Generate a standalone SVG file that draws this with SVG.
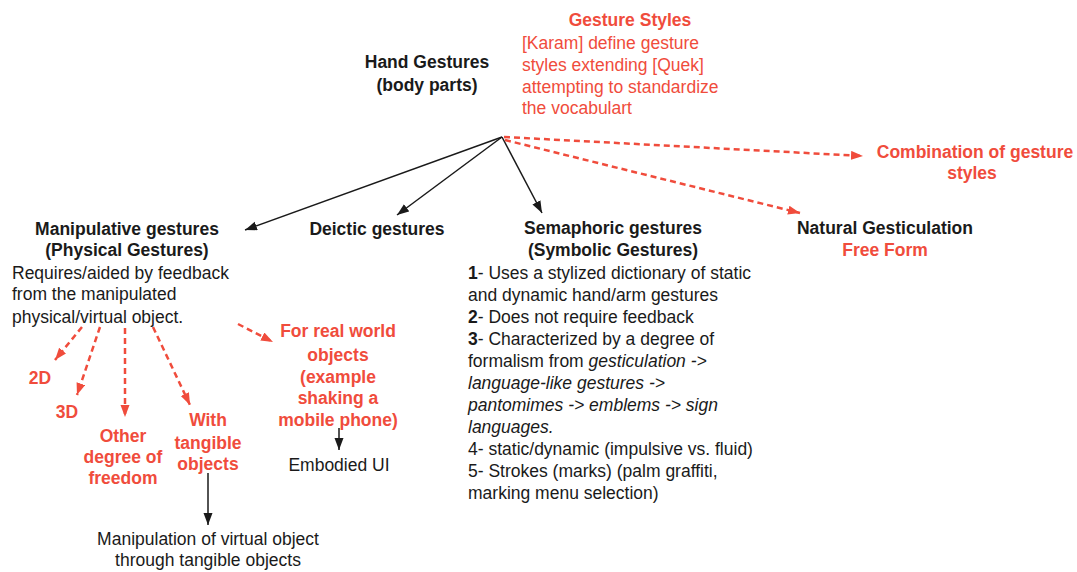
<svg xmlns="http://www.w3.org/2000/svg" width="1077" height="572" viewBox="0 0 1077 572">
<defs>
<style>
text{font-family:"Liberation Sans",Arial,Helvetica,sans-serif;font-size:17.5px;fill:#1a1a1a}
.b{font-weight:bold}
.r{fill:#f04c3c}
.m{text-anchor:middle}
.i{font-style:italic}
.blk{stroke:#1a1a1a;stroke-width:1.5;fill:none}
.red{stroke:#f04c3c;stroke-width:2.5;fill:none;stroke-dasharray:6 4}
</style>
<marker id="ab" markerUnits="userSpaceOnUse" markerWidth="13" markerHeight="10" refX="12" refY="4.5" orient="auto"><path d="M0,0 L12,4.5 L0,9 z" fill="#1a1a1a"/></marker>
<marker id="ar" markerUnits="userSpaceOnUse" markerWidth="13" markerHeight="10" refX="12" refY="4.5" orient="auto"><path d="M0,0 L12,4.5 L0,9 z" fill="#f04c3c"/></marker>
</defs>
<rect width="1077" height="572" fill="#ffffff"/>
<g id="connectors">
<line class="blk" x1="502" y1="137" x2="245" y2="230" marker-end="url(#ab)"/>
<line class="blk" x1="502" y1="137" x2="397" y2="215" marker-end="url(#ab)"/>
<line class="blk" x1="502" y1="137" x2="542" y2="213" marker-end="url(#ab)"/>
<path class="red" d="M504,137 L863,156" marker-end="url(#ar)"/>
<path class="red" d="M505,140 L800,213" marker-end="url(#ar)"/>
<path class="red" d="M82,327 L55,360" marker-end="url(#ar)"/>
<path class="red" d="M100,327 L77,395" marker-end="url(#ar)"/>
<path class="red" d="M125,328 L125,417" marker-end="url(#ar)"/>
<path class="red" d="M153,327 L190,405" marker-end="url(#ar)"/>
<path class="red" d="M238,324 L273,342" marker-end="url(#ar)"/>
<line class="blk" x1="339" y1="428" x2="339" y2="450" marker-end="url(#ab)"/>
<line class="blk" x1="208" y1="473" x2="208" y2="525" marker-end="url(#ab)"/>
</g>
<g id="hand-gestures">
<text class="b m" x="427" y="68">Hand Gestures</text>
<text class="b m" x="427" y="91">(body parts)</text>
</g>
<g id="gesture-styles">
<text class="b r m" x="630" y="26">Gesture Styles</text>
<text class="r" x="522" y="49">[Karam] define gesture</text>
<text class="r" x="522" y="71">styles extending [Quek]</text>
<text class="r" x="522" y="93">attempting to standardize</text>
<text class="r" x="522" y="114">the vocabulart</text>
</g>
<g id="combination">
<text class="b r m" x="975" y="158">Combination of gesture</text>
<text class="b r m" x="972" y="179">styles</text>
</g>
<g id="natural">
<text class="b m" x="885" y="234">Natural Gesticulation</text>
<text class="b r m" x="885" y="256">Free Form</text>
</g>
<g id="manipulative">
<text class="b m" x="127" y="235">Manipulative gestures</text>
<text class="b m" x="127" y="256">(Physical Gestures)</text>
<text x="12" y="279">Requires/aided by feedback</text>
<text x="12" y="300">from the manipulated</text>
<text x="12" y="323">physical/virtual object.</text>
</g>
<g id="deictic">
<text class="b m" x="377" y="235">Deictic gestures</text>
</g>
<g id="semaphoric">
<text class="b m" x="613" y="234">Semaphoric gestures</text>
<text class="b m" x="613" y="256">(Symbolic Gestures)</text>
<text x="468" y="279"><tspan class="b">1</tspan>- Uses a stylized dictionary of static</text>
<text x="468" y="301">and dynamic hand/arm gestures</text>
<text x="468" y="323"><tspan class="b">2</tspan>- Does not require feedback</text>
<text x="468" y="345"><tspan class="b">3</tspan>- Characterized by a degree of</text>
<text x="468" y="367">formalism from <tspan class="i">gesticulation -&gt;</tspan></text>
<text class="i" x="468" y="389">language-like gestures -&gt;</text>
<text class="i" x="468" y="411">pantomimes -&gt; emblems -&gt; sign</text>
<text class="i" x="468" y="433">languages.</text>
<text x="468" y="455">4- static/dynamic (impulsive vs. fluid)</text>
<text x="468" y="477">5- Strokes (marks) (palm graffiti,</text>
<text x="468" y="499">marking menu selection)</text>
</g>
<g id="n2d"><text class="b r m" x="40" y="384">2D</text></g>
<g id="n3d"><text class="b r m" x="67" y="418">3D</text></g>
<g id="other-dof">
<text class="b r m" x="123" y="442">Other</text>
<text class="b r m" x="123" y="463">degree of</text>
<text class="b r m" x="123" y="484">freedom</text>
</g>
<g id="tangible">
<text class="b r m" x="208" y="426">With</text>
<text class="b r m" x="208" y="449">tangible</text>
<text class="b r m" x="208" y="470">objects</text>
</g>
<g id="real-world">
<text class="b r m" x="338" y="337">For real world</text>
<text class="b r m" x="338" y="361">objects</text>
<text class="b r m" x="338" y="383">(example</text>
<text class="b r m" x="338" y="404">shaking a</text>
<text class="b r m" x="338" y="426">mobile phone)</text>
</g>
<g id="embodied"><text class="m" x="339" y="471">Embodied UI</text></g>
<g id="manipulation-virtual">
<text class="m" x="208" y="545">Manipulation of virtual object</text>
<text class="m" x="208" y="566">through tangible objects</text>
</g>
</svg>
